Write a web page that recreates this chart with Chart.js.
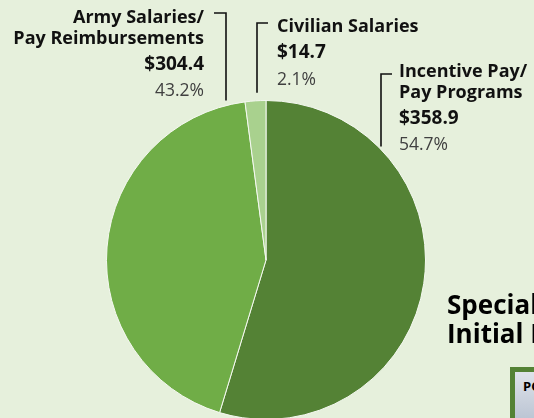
<!DOCTYPE html>
<html>
<head>
<meta charset="utf-8">
<script src="https://cdn.jsdelivr.net/npm/chart.js@4/dist/chart.umd.min.js"></script>
<style>
  html, body { margin: 0; padding: 0; background: #e6f0dc; overflow: hidden; width: 534px; height: 418px; }
  #wrap { position: absolute; left: 0; top: 0; width: 534px; height: 440px; }
  .title { position: absolute; left: 447px; top: 290px; font: bold 26px "Open Sans", sans-serif; line-height: 29px; color: #000; white-space: nowrap; }
  .box { position: absolute; left: 510px; top: 367px; width: 40px; height: 60px; border: 5px solid #548235; border-right: none; background: linear-gradient(#dfe3ea, #b9c3d2); box-sizing: border-box; }
  .box span { position: absolute; left: 8px; top: 7px; font: bold 13px "Open Sans", sans-serif; line-height: 15px; color: #000; }
</style>
</head>
<body>
<div id="wrap"><canvas id="myChart"></canvas></div>
<div class="title">Special<br>Initial F</div>
<div class="box"><span>PO</span></div>
<script>
const kategori = ["Incentive Pay/ Pay Programs", "Army Salaries/ Pay Reimbursements", "Civilian Salaries"];
const persen = [54.7, 43.2, 2.1];
const jumlah = ["$358.9", "$304.4", "$14.7"];
const warna = ["#548235", "#70ad47", "#a9d18e"];

// posisi teks label + garis penunjuk
const labelPos = [
  {lines: ["Incentive Pay/", "Pay Programs"], x: 399, y: 77, align: "left", lineX: 381, lineY: 74, gap: 3},
  {lines: ["Army Salaries/", "Pay Reimbursements"], x: 204, y: 23, align: "right", lineX: 226, lineY: 13, gap: 5},
  {lines: ["Civilian Salaries"], x: 277, y: 32, align: "left", lineX: 257, lineY: 23, gap: 8},
];

const labelPlugin = {
  id: "labelPlugin",
  afterDraw(chart) {
    const c = chart.ctx;
    const arc = chart.getDatasetMeta(0).data[0];
    const cx = arc.x, cy = arc.y, r = arc.outerRadius;
    labelPos.forEach((p, i) => {
      c.save();
      c.fillStyle = "#111";
      c.textAlign = p.align;
      c.textBaseline = "alphabetic";
      let y = p.y;
      c.font = "bold 18px 'Open Sans', sans-serif";
      p.lines.forEach((t, k) => { if (k > 0) y += 20.5; c.fillText(t, p.x, y); });
      y += 26;
      c.font = "bold 19px 'Open Sans', sans-serif";
      c.fillText(jumlah[i], p.x, y);
      y += 26.5;
      c.fillStyle = "#404040";
      c.font = "17.5px 'Open Sans', sans-serif";
      c.fillText(persen[i].toFixed(1) + "%", p.x, y);

      // garis penunjuk
      const dx = p.lineX - cx;
      const edgeY = cy - Math.sqrt(r * r - dx * dx) - p.gap;
      c.strokeStyle = "#111";
      c.lineWidth = 1.6;
      c.beginPath();
      c.moveTo(p.align === "left" ? p.lineX + 11 : p.lineX - 12, p.lineY);
      c.lineTo(p.lineX, p.lineY);
      c.lineTo(p.lineX, edgeY);
      c.stroke();
      c.restore();
    });
  }
};

const data = {
  labels: kategori,
  datasets: [{
    data: persen,
    backgroundColor: warna,
    borderColor: "#f4f8f0",
    borderWidth: 1,
  }],
};

const config = {
  type: "pie",
  data: data,
  options: {
    responsive: true,
    maintainAspectRatio: false,
    animation: false,
    layout: { padding: {top: 100, bottom: 20, left: 106, right: 108} },
    plugins: {
      legend: { display: false },
      tooltip: { enabled: false },
    },
  },
  plugins: [labelPlugin],
};

const ctx = document.getElementById("myChart");
const myChart = new Chart(ctx, config);
</script>
</body>
</html>
